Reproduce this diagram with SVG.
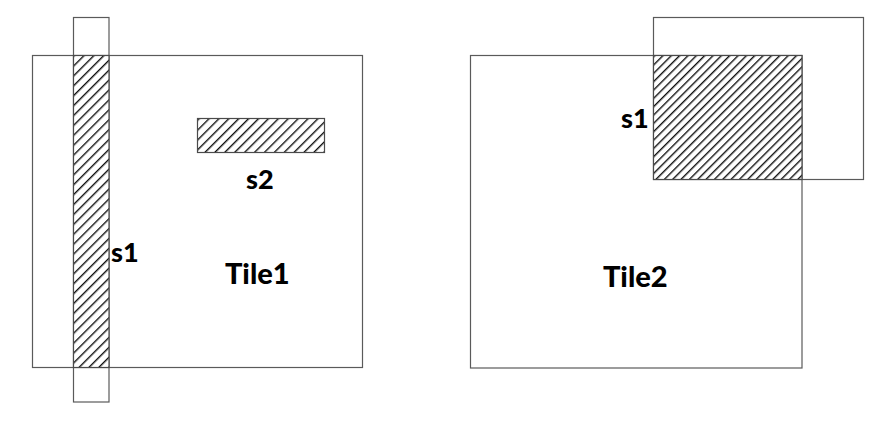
<svg xmlns="http://www.w3.org/2000/svg" width="887" height="423" viewBox="0 0 887 423">
  <style>
    .edge { fill: none; stroke: #5a5a5a; stroke-width: 1.2; }
    .hatchA { fill: url(#hatchWide); stroke: #4a4a4a; stroke-width: 1.2; }
    .hatchB { fill: url(#hatchNarrow); stroke: #4a4a4a; stroke-width: 1.2; }
    .lbl { font-family: Lato, "Open Sans", "Liberation Sans", sans-serif; font-weight: 900; fill: #000; }
    .big { font-size: 29px; }
    .small { font-size: 27px; }
  </style>
  <defs>
    <pattern id="hatchWide" patternUnits="userSpaceOnUse" width="7" height="7" patternTransform="rotate(45)">
      <rect width="7" height="7" fill="#fff"/>
      <line x1="0.7" y1="0" x2="0.7" y2="7" stroke="#111" stroke-width="1.4"/>
    </pattern>
    <pattern id="hatchNarrow" patternUnits="userSpaceOnUse" width="5.9" height="5.9" patternTransform="rotate(45)">
      <rect width="5.9" height="5.9" fill="#fff"/>
      <line x1="0.7" y1="0" x2="0.7" y2="5.9" stroke="#111" stroke-width="1.4"/>
    </pattern>
  </defs>

  <g id="connectors"></g>

  <g id="tile1">
    <rect class="edge" x="32.5" y="55.5" width="330" height="312"/>
    <text class="lbl big" x="225" y="284">Tile1</text>
  </g>

  <g id="tile1-s1">
    <rect class="edge" x="73.5" y="17.5" width="35.5" height="384.5" fill="#fff"/>
    <rect class="hatchA" x="73.5" y="55.5" width="35.5" height="312"/>
    <text class="lbl small" x="111" y="262">s1</text>
  </g>

  <g id="tile1-s2">
    <rect class="hatchA" x="197.5" y="118.5" width="127" height="34"/>
    <text class="lbl small" x="246" y="189">s2</text>
  </g>

  <g id="tile2-s1-outline">
    <rect class="edge" x="653.5" y="17.5" width="210" height="162"/>
  </g>

  <g id="tile2">
    <rect class="edge" x="470.5" y="55.5" width="331.5" height="312.5"/>
    <text class="lbl big" x="603" y="287">Tile2</text>
  </g>

  <g id="tile2-s1">
    <rect class="hatchB" x="653.5" y="55.5" width="148.5" height="124"/>
    <text class="lbl small" x="621" y="128">s1</text>
  </g>
</svg>
